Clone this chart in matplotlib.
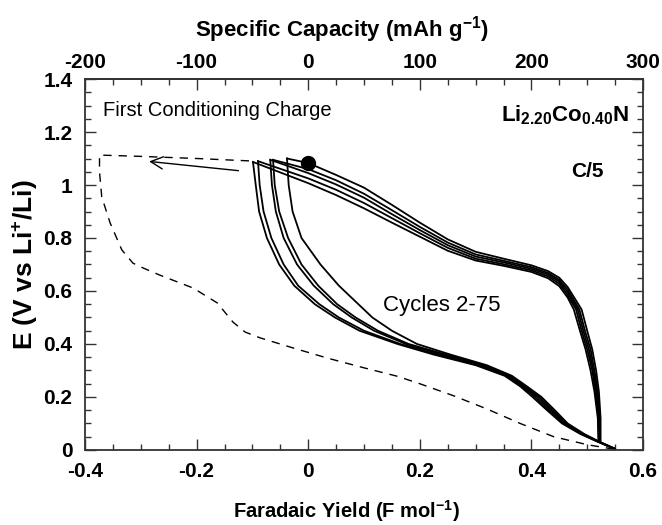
import matplotlib
matplotlib.use("Agg")
import matplotlib.pyplot as plt
from matplotlib.ticker import MultipleLocator

plt.rcParams['font.family'] = ['Liberation Sans', 'DejaVu Sans']
plt.rcParams['mathtext.fontset'] = 'custom'
plt.rcParams['mathtext.rm'] = 'Liberation Sans:bold'
plt.rcParams['mathtext.bf'] = 'Liberation Sans:bold'
plt.rcParams['mathtext.it'] = 'Liberation Sans:bold'

# top-left turning point of each cycle (x in F/mol, E in V)
top_x = [-0.099, -0.090, -0.068, -0.063, -0.038]
top_v = [1.087, 1.090, 1.095, 1.095, 1.100]

# upper (delithiation) branches, sloping part: E at shared x
slope_x = [0.0, 0.05, 0.10, 0.15, 0.20, 0.25, 0.30, 0.35, 0.40, 0.43, 0.45, 0.465]
slope_v_a = [1.007, 0.962, 0.912, 0.858, 0.805, 0.752, 0.715, 0.695, 0.672, 0.648, 0.618, 0.575]
slope_v_b = [1.025, 0.982, 0.932, 0.875, 0.818, 0.763, 0.722, 0.701, 0.678, 0.655, 0.627, 0.585]
slope_v_c = [1.045, 1.002, 0.952, 0.890, 0.830, 0.773, 0.730, 0.708, 0.684, 0.662, 0.635, 0.595]
slope_v_d = [1.060, 1.018, 0.967, 0.905, 0.842, 0.783, 0.738, 0.714, 0.690, 0.668, 0.642, 0.605]
slope_v_e = [1.083, 1.038, 0.990, 0.925, 0.858, 0.795, 0.748, 0.722, 0.697, 0.675, 0.650, 0.615]

# upper branches, steep drop: x at shared E
drop_v = [0.53, 0.45, 0.38, 0.30, 0.22, 0.12, 0.03]
drop_x_a = [0.476, 0.487, 0.497, 0.506, 0.513, 0.519, 0.520]
drop_x_b = [0.480, 0.490, 0.500, 0.509, 0.515, 0.520, 0.521]
drop_x_c = [0.483, 0.493, 0.503, 0.511, 0.517, 0.521, 0.522]
drop_x_d = [0.486, 0.496, 0.506, 0.513, 0.519, 0.522, 0.523]
drop_x_e = [0.490, 0.500, 0.509, 0.516, 0.521, 0.524, 0.524]

# lower (lithiation) branches, from the top-left corner down to 0 V
lower_v = [1.00, 0.90, 0.80, 0.70, 0.62, 0.55, 0.50, 0.45, 0.40,
           0.36, 0.32, 0.28, 0.24, 0.20, 0.15, 0.10, 0.06, 0.03, 0.005]
lower_x_a = [-0.094, -0.088, -0.074, -0.052, -0.025, 0.012, 0.048, 0.092, 0.160,
             0.225, 0.300, 0.352, 0.380, 0.402, 0.428, 0.455, 0.488, 0.520, 0.548]
lower_x_b = [-0.087, -0.080, -0.066, -0.044, -0.018, 0.020, 0.055, 0.100, 0.165,
             0.232, 0.305, 0.355, 0.383, 0.406, 0.431, 0.458, 0.490, 0.521, 0.548]
lower_x_c = [-0.065, -0.058, -0.044, -0.020, 0.010, 0.045, 0.078, 0.118, 0.175,
             0.240, 0.310, 0.358, 0.386, 0.410, 0.435, 0.460, 0.491, 0.522, 0.549]
lower_x_d = [-0.060, -0.052, -0.036, -0.012, 0.018, 0.052, 0.085, 0.125, 0.180,
             0.247, 0.315, 0.361, 0.389, 0.414, 0.438, 0.462, 0.493, 0.522, 0.549]
lower_x_e = [-0.035, -0.028, -0.012, 0.022, 0.055, 0.090, 0.115, 0.150, 0.195,
             0.255, 0.320, 0.365, 0.392, 0.418, 0.442, 0.465, 0.495, 0.523, 0.550]

# first conditioning charge (dashed)
first_x = [0.548, 0.500, 0.440, 0.380, 0.320, 0.260, 0.200, 0.160, 0.100, 0.034,
           -0.027, -0.086, -0.113, -0.135, -0.163, -0.206, -0.266, -0.296, -0.314,
           -0.334, -0.355, -0.370, -0.374, -0.374, -0.300, -0.200, -0.095]
first_v = [0.003, 0.020, 0.050, 0.100, 0.155, 0.205, 0.250, 0.278, 0.310, 0.347,
           0.385, 0.423, 0.445, 0.483, 0.555, 0.611, 0.660, 0.687, 0.705,
           0.755, 0.857, 0.955, 1.050, 1.113, 1.108, 1.100, 1.090]

slope_all = [slope_v_a, slope_v_b, slope_v_c, slope_v_d, slope_v_e]
drop_all = [drop_x_a, drop_x_b, drop_x_c, drop_x_d, drop_x_e]
lower_all = [lower_x_a, lower_x_b, lower_x_c, lower_x_d, lower_x_e]

fig = plt.figure(figsize=(6.62, 5.25), dpi=100)
ax = fig.add_axes([0.1284, 0.1429, 0.8429, 0.7066])

for i in range(5):
    ux = [top_x[i]] + slope_x + drop_all[i]
    uy = [top_v[i]] + slope_all[i] + drop_v
    ax.plot(ux, uy, color='k', lw=1.3)
    ax.plot([top_x[i]] + lower_all[i], [top_v[i]] + lower_v, color='k', lw=1.3)

ax.plot(first_x, first_v, color='k', lw=1.0, ls=(0, (6, 5)))
ax.plot([0.0], [1.083], 'o', color='k', markersize=10)

ax.annotate('', xy=(-0.29, 1.09), xytext=(-0.12, 1.053),
            arrowprops=dict(arrowstyle='->', color='k', lw=1.0,
                            mutation_scale=22))

ax.text(-0.368, 1.28, 'First Conditioning Charge', fontsize=14.5, va='center')
ax.text(0.24, 0.547, 'Cycles 2-75', fontsize=16, ha='center', va='center')
ax.text(0.576, 1.262, r'Li$_{2.20}$Co$_{0.40}$N', fontsize=16, fontweight='bold',
        ha='right', va='center')
ax.text(0.5, 1.05, 'C/5', fontsize=15, fontweight='bold', ha='center', va='center')

ax.set_xlim(-0.4, 0.6)
ax.set_ylim(0, 1.4)
ax.xaxis.set_minor_locator(MultipleLocator(0.05))
ax.yaxis.set_minor_locator(MultipleLocator(0.05))
ax.set_xticks([-0.4, -0.2, 0, 0.2, 0.4, 0.6])
ax.set_xticklabels(['-0.4', '-0.2', '0', '0.2', '0.4', '0.6'])
ax.set_yticks([0, 0.2, 0.4, 0.6, 0.8, 1, 1.2, 1.4])
ax.set_yticklabels(['0', '0.2', '0.4', '0.6', '0.8', '1', '1.2', '1.4'])

ax.tick_params(which='both', direction='in', right=True, top=False, color='#333333')
ax.tick_params(which='major', length=8, width=1.0, pad=9, labelsize=15)
ax.tick_params(which='minor', length=4.5, width=1.0)
for lab in ax.get_xticklabels() + ax.get_yticklabels():
    lab.set_fontweight('bold')
for sp in ax.spines.values():
    sp.set_color('#333333')
    sp.set_linewidth(1.3)

top = ax.secondary_xaxis('top', functions=(lambda x: x * 500, lambda c: c / 500))
top.set_xticks([-200, -100, 0, 100, 200, 300])
top.set_xticklabels(['-200', '-100', '0', '100', '200', '300'])
top.xaxis.set_minor_locator(MultipleLocator(25))
top.tick_params(which='both', direction='in', color='#333333')
top.tick_params(which='major', length=8, width=1.0, pad=5, labelsize=15)
top.tick_params(which='minor', length=4.5, width=1.0)
for lab in top.get_xticklabels():
    lab.set_fontweight('bold')
top.spines['top'].set_color('#333333')
top.spines['top'].set_linewidth(1.3)
fig.text(0.5166, 0.943, r'Specific Capacity (mAh g$^{-1}$)', fontsize=16,
         fontweight='bold', ha='center', va='center')

ax.set_xlabel(r'Faradaic Yield (F mol$^{-1}$)', fontsize=14.5, fontweight='bold')
ax.xaxis.set_label_coords(0.468, -0.13)
ax.set_ylabel(r'E (V vs Li$^{+}$/Li)', fontsize=19, fontweight='bold')
ax.yaxis.set_label_coords(-0.08, 0.5)

fig.savefig('out.png', dpi=100)
